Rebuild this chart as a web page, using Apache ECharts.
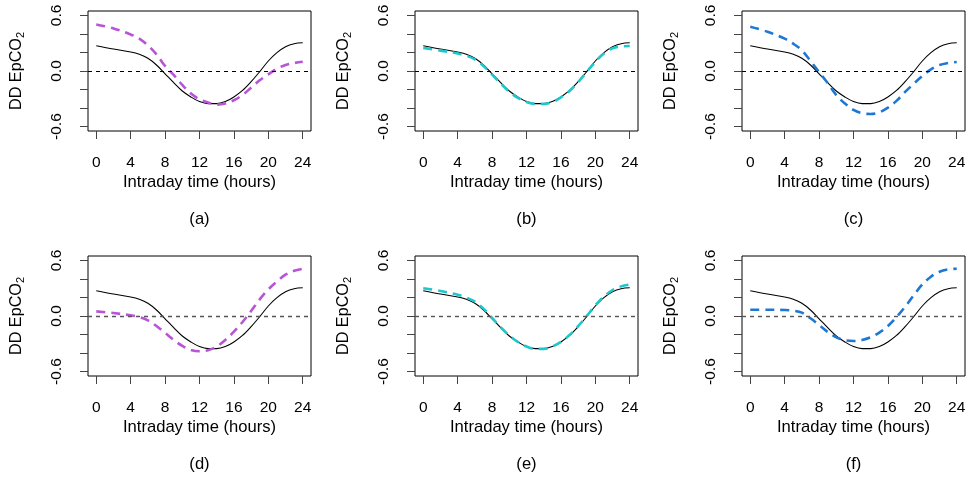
<!DOCTYPE html>
<html>
<head>
<meta charset="utf-8">
<script src="https://cdn.jsdelivr.net/npm/echarts@6/dist/echarts.min.js"></script>
<style>
html,body{margin:0;padding:0;background:#fff;}
#chart{width:969px;height:477px;}
</style>
</head>
<body>
<div id="chart"></div>
<script>
// ---- data ----
const hours = [0,2,4,5,6,7,8,9,10,11,12,13,14,15,16,17,18,19,20,21,22,23,24];
const xTicks = [0,4,8,12,16,20,24];
const yTicks = [-0.6,-0.4,-0.2,0,0.2,0.4,0.6];
const yLabels = [-0.6,0,0.6];
const panelLabels = ['(a)','(b)','(c)','(d)','(e)','(f)'];

const reference = [0.273,0.237,0.205,0.18,0.137,0.065,-0.03,-0.126,-0.216,-0.28,-0.33,-0.352,-0.352,-0.33,-0.28,-0.21,-0.115,-0.007,0.108,0.198,0.262,0.295,0.305];
const seriesA = [0.503,0.46,0.395,0.35,0.277,0.18,0.054,-0.043,-0.151,-0.244,-0.305,-0.341,-0.363,-0.352,-0.316,-0.259,-0.18,-0.10,-0.036,0.025,0.065,0.086,0.10];
const seriesB = [0.25,0.22,0.19,0.165,0.125,0.055,-0.04,-0.135,-0.225,-0.29,-0.335,-0.355,-0.355,-0.335,-0.285,-0.215,-0.12,-0.01,0.10,0.19,0.245,0.265,0.27];
const seriesC = [0.478,0.424,0.349,0.295,0.223,0.108,-0.011,-0.13,-0.26,-0.35,-0.42,-0.456,-0.464,-0.446,-0.395,-0.323,-0.226,-0.137,-0.054,0.018,0.065,0.086,0.097];
const seriesD = [0.05,0.032,0.007,-0.011,-0.047,-0.108,-0.183,-0.259,-0.323,-0.367,-0.381,-0.37,-0.33,-0.259,-0.169,-0.065,0.054,0.18,0.287,0.374,0.446,0.489,0.51];
const seriesE = [0.30,0.27,0.23,0.2,0.155,0.08,-0.02,-0.12,-0.21,-0.28,-0.33,-0.355,-0.355,-0.33,-0.28,-0.205,-0.11,0.0,0.115,0.21,0.28,0.32,0.34];
const seriesF = [0.068,0.068,0.065,0.058,0.036,-0.025,-0.097,-0.172,-0.23,-0.262,-0.27,-0.259,-0.23,-0.18,-0.108,-0.011,0.10,0.223,0.341,0.424,0.478,0.503,0.51];

const panelSeries = [seriesA, seriesB, seriesC, seriesD, seriesE, seriesF];
const PURPLE = '#B855D6', CYAN = '#1FC6CC', BLUE = '#1E78D2';
const panelColors = [PURPLE, CYAN, BLUE, PURPLE, CYAN, BLUE];

// ---- layout ----
const FONT = '"Liberation Sans", Arial, Helvetica, sans-serif';
const lefts = [88, 415, 742];
const tops = [11, 256];
const W = 223, H = 120;

const grid = [], xAxis = [], yAxis = [], series = [], graphic = [];
const pair = (arr) => hours.map((h, i) => [h, arr[i]]);

for (let p = 0; p < 6; p++) {
  const col = p % 3, row = Math.floor(p / 3);
  grid.push({left: lefts[col], top: tops[row], width: W, height: H,
    show: true, borderColor: '#000', borderWidth: 1, backgroundColor: 'transparent'});
  xAxis.push({
    type: 'value', gridIndex: p, min: -0.96, max: 24.96, position: 'bottom',
    axisLine: {show: false, onZero: false}, splitLine: {show: false},
    axisTick: {show: true, inside: false, length: 8, lineStyle: {color: '#444', width: 1}, customValues: xTicks},
    axisLabel: {customValues: xTicks, inside: false, margin: 24, fontSize: 15.5, color: '#000', fontFamily: FONT},
    name: 'Intraday time (hours)', nameLocation: 'middle', nameGap: 43,
    nameTextStyle: {fontSize: 16.6, color: '#000', fontFamily: FONT}
  });
  yAxis.push({
    type: 'value', gridIndex: p, min: -0.648, max: 0.648, position: 'left',
    axisLine: {show: false, onZero: false}, splitLine: {show: false},
    axisTick: {show: true, inside: false, length: 8, lineStyle: {color: '#444', width: 1}, customValues: yTicks},
    axisLabel: {customValues: yLabels, inside: false, rotate: 90, margin: 23, fontSize: 15.5, color: '#000', fontFamily: FONT,
      formatter: v => v.toFixed(1)},
    name: '{t|DD EpCO}{s|2}', nameLocation: 'middle', nameGap: 62, nameRotate: 90,
    nameTextStyle: {fontFamily: FONT, color: '#000',
      rich: {t: {fontSize: 16.2, lineHeight: 19, fontFamily: FONT, color: '#000'},
             s: {fontSize: 11, lineHeight: 11, verticalAlign: 'bottom', fontFamily: FONT, color: '#000'}}}
  });
  series.push({
    type: 'line', xAxisIndex: p, yAxisIndex: p, data: pair(reference),
    smooth: 0.35, symbol: 'none', lineStyle: {color: '#000', width: 1.1}, z: 3, silent: true,
    markLine: {silent: true, symbol: 'none', label: {show: false},
      lineStyle: {color: row === 0 ? '#000' : '#555', width: row === 0 ? 1 : 1.4, type: [4, 4]},
      data: [{yAxis: 0}]}
  });
  series.push({
    type: 'line', xAxisIndex: p, yAxisIndex: p, data: pair(panelSeries[p]),
    smooth: 0.35, symbol: 'none', lineStyle: {color: panelColors[p], width: 2.6, type: [9, 6]}, z: 4, silent: true
  });
  graphic.push({type: 'text', x: lefts[col] + W / 2, y: tops[row] + H + 88,
    style: {text: panelLabels[p], align: 'center', verticalAlign: 'middle', fontSize: 16.6, fontFamily: FONT, fill: '#000'}});
}

const chart = echarts.init(document.getElementById('chart'), null, {renderer: 'canvas'});
chart.setOption({animation: false, backgroundColor: '#fff', grid, xAxis, yAxis, series, graphic});
</script>
</body>
</html>
